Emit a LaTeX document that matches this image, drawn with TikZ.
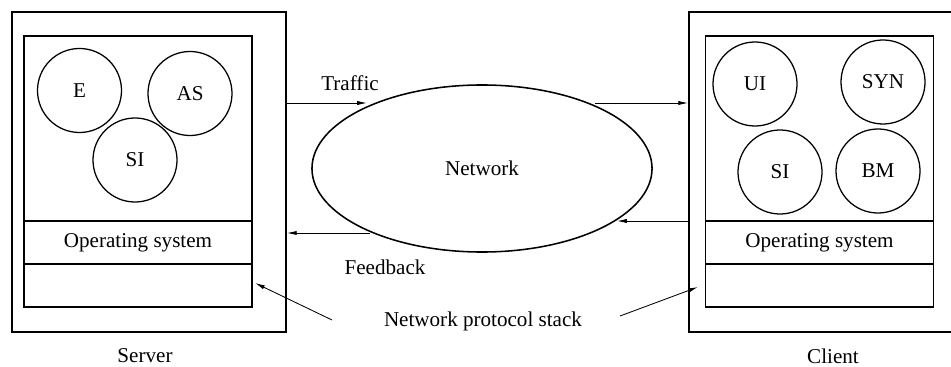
\documentclass[tikz,border=0pt]{standalone}
\usepackage{fontspec}
\setmainfont{Liberation Serif}
\usetikzlibrary{shapes.geometric}
\usetikzlibrary{arrows.meta}

\begin{document}
\begin{tikzpicture}[x=0.025cm, y=-0.025cm,
  every node/.style={font=\fontsize{15}{18}\selectfont},
  outerbox/.style={draw, line width=1.2pt, minimum height=8cm, inner sep=0pt},
  layer/.style={draw, line width=1pt, minimum width=5.7cm, minimum height=1.075cm, inner sep=0pt},
  proc/.style={draw, circle, line width=0.9pt, minimum size=2.1cm, inner sep=0pt},
  flow/.style={-{Latex[length=7pt,width=3pt]}, line width=0.6pt}]
\useasboundingbox (0,0) rectangle (951,367);

% server side
\node[outerbox, minimum width=6.85cm] (server) at (149,172) {};
\node[layer, minimum height=4.625cm] (sapps) at (138,128.5) {};
\node[layer] (sos)    at (138,242.5) {Operating system};
\node[layer] (sstack) at (138,285.5) {};
\node[proc] (E)   at (79.5,90.5) {E};
\node[proc] (AS)  at (190,93.5)  {AS};
\node[proc] (ssi) at (135,160)   {SI};

% client side
\node[outerbox, minimum width=6.6cm] (client) at (821,172) {};
\node[layer, minimum height=4.625cm] (capps) at (819.5,128.5) {};
\node[layer] (cos)    at (819.5,242.5) {Operating system};
\node[layer] (cstack) at (819.5,285.5) {};
\node[proc] (UI)  at (755,84)  {UI};
\node[proc] (SYN) at (883,82)  {SYN};
\node[proc] (csi) at (780,172) {SI};
\node[proc] (BM)  at (878,171) {BM};

% network
\node[draw, ellipse, line width=1.1pt, minimum width=8.5cm, minimum height=4.175cm, inner sep=0pt] (network) at (482,168.5) {Network};

\coordinate (trafficin)  at (367,103);
\coordinate (trafficout) at (595,103);
\coordinate (feedin)     at (617,221);
\coordinate (feedout)    at (370,233);
\coordinate (stackL)     at (332,320);
\coordinate (stackR)     at (620,316);
\coordinate (stacktipL)  at (255,283);
\coordinate (stacktipR)  at (698,287);

\draw[flow] (server.east |- trafficin) -- (trafficin);
\draw[flow] (trafficout) -- (client.west |- trafficout);
\draw[flow] (client.west |- feedin) -- (feedin);
\draw[flow] (feedout) -- (server.east |- feedout);
\draw[flow] (stackL) -- (stacktipL);
\draw[flow] (stackR) -- (stacktipR);

\node (traffic)     at (350,83)  {Traffic};
\node (feedback)    at (385,267) {Feedback};
\node (stack)       at (483,321) {Network protocol stack};
\node (serverlabel) at (145,356) {Server};
\node (clientlabel) at (833,356) {Client};

\end{tikzpicture}
\end{document}
